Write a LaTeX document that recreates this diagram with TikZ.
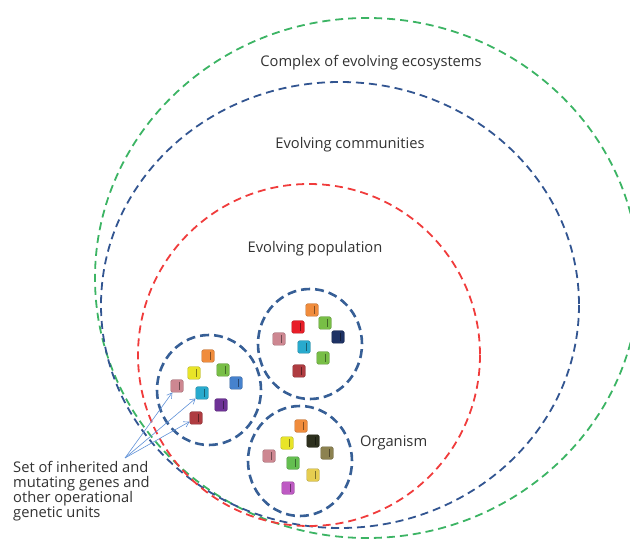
\documentclass[tikz,border=0pt]{standalone}
\usepackage{fontspec}
\setmainfont{Open Sans}
\usetikzlibrary{shapes.geometric,arrows.meta,positioning}
\definecolor{ecogreen}{RGB}{60,180,100}
\definecolor{commblue}{RGB}{50,85,145}
\definecolor{popred}{RGB}{240,60,60}
\definecolor{orgblue}{RGB}{55,95,150}
\definecolor{pointblue}{RGB}{95,145,215}
\definecolor{textgray}{RGB}{50,50,50}
% gene colours
\definecolor{gorange}{RGB}{240,140,60}
\definecolor{gyellow}{RGB}{232,228,40}
\definecolor{glime}{RGB}{120,190,70}
\definecolor{grose}{RGB}{205,135,145}
\definecolor{gblue}{RGB}{70,130,205}
\definecolor{gcyan}{RGB}{40,170,205}
\definecolor{gpurple}{RGB}{110,50,150}
\definecolor{gmaroon}{RGB}{175,60,65}
\definecolor{gred}{RGB}{232,30,40}
\definecolor{gnavy}{RGB}{30,50,100}
\definecolor{gblack}{RGB}{45,48,30}
\definecolor{golive}{RGB}{140,130,80}
\definecolor{gsand}{RGB}{230,205,80}
\definecolor{ggreen}{RGB}{100,190,80}
\definecolor{gmagenta}{RGB}{190,90,195}

\tikzset{
  level/.style={line width=1.8pt, dash pattern=on 8pt off 5pt},
  organism/.style={ellipse, draw=orgblue, line width=2.6pt, dash pattern=on 9pt off 5pt,
    minimum width=104pt, minimum height=110pt, inner sep=0pt},
  gene/.style={draw=#1!75!black, fill=#1, rounded corners=2pt, minimum size=12.5pt,
    inner sep=0pt, line width=0.4pt,
    path picture={\draw[#1!55!black, line width=0.5pt]
      ([xshift=2pt,yshift=-2pt]path picture bounding box.north) --
      ([xshift=2pt,yshift=2pt]path picture bounding box.south);}},
  caption/.style={text=textgray, font=\fontsize{14.7}{15}\selectfont},
  pointer/.style={pointblue, line width=0.6pt, -{Straight Barb[length=5pt,width=6pt]}}
}

\begin{document}
\begin{tikzpicture}[x=1pt, y=-1pt]
  \useasboundingbox (0,0) rectangle (630,540);

  % Draw the nested levels
  \draw[level, ecogreen] (367,278) ellipse (272 and 260);
  \draw[level, commblue] (340,305) ellipse (239 and 223);
  \draw[level, popred] (309,355) circle (171);

  \node[caption] (ecolabel) at (371,63) {Complex of evolving ecosystems};
  \node[caption] (commlabel) at (350,145) {Evolving communities};
  \node[caption] (poplabel) at (315,249) {Evolving population};

  % Draw organisms
  \node[organism] (orgA) at (209,390) {};
  \node[organism] (orgB) at (310,344) {};
  \node[organism] (orgC) at (300,461) {};
  \node[caption, anchor=west, inner sep=0pt] (orglabel) at (360,443) {Organism};

  % Genes of organism A
  \node[gene=gorange] (a1) at (208,356) {};
  \node[gene=gyellow] (a2) at (194,373) {};
  \node[gene=glime] (a3) at (223,370) {};
  \node[gene=grose] (a4) at (177,386) {};
  \node[gene=gblue] (a5) at (236,383) {};
  \node[gene=gcyan] (a6) at (202,393) {};
  \node[gene=gpurple] (a7) at (221,405) {};
  \node[gene=gmaroon] (a8) at (196,418) {};

  % Genes of organism B
  \node[gene=gorange] (b1) at (312,310) {};
  \node[gene=gred] (b2) at (298,327) {};
  \node[gene=glime] (b3) at (325,323) {};
  \node[gene=grose] (b4) at (279,339) {};
  \node[gene=gnavy] (b5) at (338,337) {};
  \node[gene=gcyan] (b6) at (304,347) {};
  \node[gene=glime] (b7) at (323,358) {};
  \node[gene=gmaroon] (b8) at (299,371) {};

  % Genes of organism C
  \node[gene=gorange] (c1) at (301,426) {};
  \node[gene=gblack] (c2) at (313,441) {};
  \node[gene=gyellow] (c3) at (287,443) {};
  \node[gene=golive] (c4) at (327,453) {};
  \node[gene=grose] (c5) at (269,456) {};
  \node[gene=ggreen] (c6) at (293,463) {};
  \node[gene=gsand] (c7) at (313,475) {};
  \node[gene=gmagenta] (c8) at (288,488) {};

  % Pointers to the genetic units
  \coordinate (src) at (125,458);
  \draw[pointer] (src) -- (a4);
  \draw[pointer] (src) -- (a6);
  \draw[pointer] (src) -- (a8);

  \node[caption, anchor=north west, align=left, inner sep=0pt] (genelabel) at (13,461)
    {Set of inherited and\\mutating genes and\\other operational\\genetic units};
\end{tikzpicture}
\end{document}
